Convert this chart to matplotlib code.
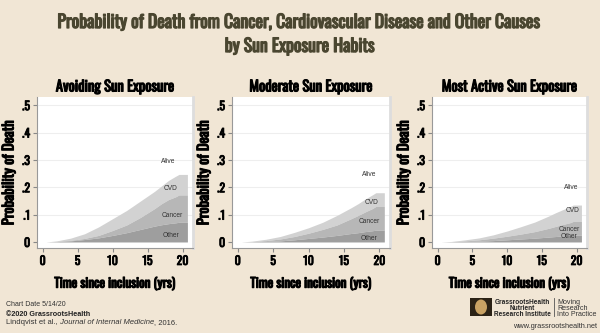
import matplotlib
matplotlib.use("Agg")
import matplotlib.pyplot as plt
import matplotlib.patheffects as pe
from matplotlib.patches import Rectangle, Ellipse
from matplotlib.lines import Line2D

# time points (years since inclusion)
t = [0.5, 2, 4, 6, 8, 10, 12, 14, 16, 17, 18, 19, 19.5, 20.7]

# cumulative probability of death (stack tops)
avoid_other = [0, .001, .004, .009, .015, .024, .034, .046, .058, .063, .067, .070, .072, .072]
avoid_cancer_top = [0, .002, .006, .013, .024, .042, .062, .090, .122, .140, .155, .165, .172, .172]
avoid_cvd_top = [0, .004, .014, .030, .055, .085, .115, .150, .185, .205, .225, .240, .247, .247]

mod_other = [0, .001, .002, .004, .008, .013, .018, .024, .031, .034, .038, .041, .043, .043]
mod_cancer_top = [0, .001, .005, .011, .020, .032, .046, .062, .085, .097, .110, .122, .130, .130]
mod_cvd_top = [0, .003, .010, .020, .035, .052, .072, .097, .125, .140, .157, .172, .180, .180]

act_other = [0, .001, .002, .003, .005, .008, .011, .014, .018, .020, .022, .024, .025, .025]
act_cancer_top = [0, .001, .004, .008, .014, .021, .029, .038, .050, .057, .064, .070, .075, .075]
act_cvd_top = [0, .002, .008, .015, .026, .040, .056, .073, .095, .107, .118, .128, .135, .135]

panel_titles = ["Avoiding Sun Exposure", "Moderate Sun Exposure", "Most Active Sun Exposure"]
yticks = [0, .1, .2, .3, .4, .5]
ytick_labels = ["0", ".1", ".2", ".3", ".4", ".5"]
xticks = [0, 5, 10, 15, 20]

# label positions (x, y) for Alive/CVD/Cancer/Other in each panel
label_pos = [
    [(18.0, .295), (18.3, .195), (18.6, .095), (18.3, .025)],
    [(18.6, .245), (18.9, .145), (18.6, .075), (18.6, .014)],
    [(19.2, .20), (19.4, .115), (18.9, .045), (18.9, .020)],
]
region_names = ["Alive", "CVD", "Cancer", "Other"]

bg = "#f1e6d5"
cond = ["Oswald", "Roboto Condensed", "DejaVu Sans"]
sans = ["Liberation Sans", "DejaVu Sans"]


def heavy(color, w=0.7):
    # fake a heavier weight for the condensed font
    return [pe.withStroke(linewidth=w, foreground=color)]


fig = plt.figure(figsize=(6, 3.33), dpi=100, facecolor=bg)

title_col = "#4a4630"
fig.text(0.5, 1 - 22 / 333, "Probability of Death from Cancer, Cardiovascular Disease and Other Causes",
         ha="center", va="center", fontsize=12.8, color=title_col, family=cond,
         path_effects=heavy(title_col, 0.9))
fig.text(0.5, 1 - 46 / 333, "by Sun Exposure Habits",
         ha="center", va="center", fontsize=12.8, color=title_col, family=cond,
         path_effects=heavy(title_col, 0.9))

lefts = [37 / 600, 232 / 600, 432 / 600]
widths = [156 / 600, 158 / 600, 155 / 600]
data = [
    (avoid_other, avoid_cancer_top, avoid_cvd_top),
    (mod_other, mod_cancer_top, mod_cvd_top),
    (act_other, act_cancer_top, act_cvd_top),
]

for i in range(3):
    ax = fig.add_axes([lefts[i], (333 - 248) / 333, widths[i], 151 / 333])
    ax.set_facecolor("white")
    other, cancer_top, cvd_top = data[i]
    ax.fill_between(t, cancer_top, cvd_top, color="#d2d2d2", lw=0)
    ax.fill_between(t, other, cancer_top, color="#b7b7b7", lw=0)
    ax.fill_between(t, 0, other, color="#9e9e9e", lw=0)
    for y in yticks[1:]:
        ax.axhline(y, color="#eeeeee", lw=0.8, zorder=0)
    ax.set_xlim(-0.8, 21.5)
    ax.set_ylim(-0.022, 0.53)
    ax.set_yticks(yticks)
    ax.set_yticklabels(ytick_labels)
    ax.set_xticks(xticks)
    for lab in ax.get_xticklabels() + ax.get_yticklabels():
        lab.set_family(cond)
        lab.set_fontsize(8.5)
        lab.set_path_effects(heavy("black", 0.6))
    ax.tick_params(length=3, width=0.8, color="#888888", pad=2)
    ax.spines["top"].set_visible(False)
    ax.spines["right"].set_color("#dddddd")
    ax.spines["right"].set_linewidth(2)
    ax.spines["left"].set_color("#999999")
    ax.spines["bottom"].set_color("#999999")
    ax.set_title(panel_titles[i], fontsize=10.5, family=cond, pad=4,
                 path_effects=heavy("black", 0.8))
    ax.set_ylabel("Probability of Death", fontsize=10.5, family=cond, labelpad=4,
                  path_effects=heavy("black", 0.8))
    ax.set_xlabel("Time since inclusion (yrs)", fontsize=9.5, family=cond, labelpad=7,
                  path_effects=heavy("black", 0.8))
    for name, (x, y) in zip(region_names, label_pos[i]):
        ax.text(x, y, name, fontsize=4.8, color="#333333", ha="center", va="center", family=sans)

# footer
fig.text(6 / 600, 1 - 305 / 333, "Chart Date 5/14/20", fontsize=5, color="#333333", va="center", family=sans)
fig.text(6 / 600, 1 - 314 / 333, "\u00a92020 GrassrootsHealth", fontsize=5.2, fontweight="bold",
         color="#222222", va="center", family=sans)

renderer = fig.canvas.get_renderer()
x0 = 6 / 600
for piece, st in [("Lindqvist et al.,", "normal"), (" Journal of Internal Medicine", "italic"), (", 2016.", "normal")]:
    tx = fig.text(x0, 1 - 323 / 333, piece, fontsize=5.5, style=st, color="#333333", va="center", family=sans)
    bb = tx.get_window_extent(renderer)
    x0 += bb.width / fig.bbox.width

# logo
fig.patches.append(Rectangle((470 / 600, 1 - 316 / 333), 22 / 600, 18 / 333,
                             transform=fig.transFigure, facecolor="#2b2216", edgecolor="none"))
fig.patches.append(Ellipse((481 / 600, 1 - 307 / 333), 12 / 600, 15 / 333,
                           transform=fig.transFigure, facecolor="#c9a264", edgecolor="none"))
for k, s in enumerate(["GrassrootsHealth", "Nutrient", "Research Institute"]):
    fig.text(522.5 / 600, 1 - (303 + 5.5 * k) / 333, s, fontsize=4.7, fontweight="bold",
             color="#222222", ha="center", va="center", family=sans)
fig.lines.append(Line2D([554 / 600, 554 / 600], [1 - 316 / 333, 1 - 298 / 333],
                        transform=fig.transFigure, color="#555555", lw=0.6))
for k, s in enumerate(["Moving", "Research", "Into Practice"]):
    fig.text(557 / 600, 1 - (303 + 5.5 * k) / 333, s, fontsize=5.1, color="#333333", va="center", family=sans)
fig.text(597 / 600, 1 - 326 / 333, "www.grassrootshealth.net", fontsize=5.3, color="#333333",
         ha="right", va="center", family=sans)

fig.savefig("out.png", dpi=100, facecolor=bg)
